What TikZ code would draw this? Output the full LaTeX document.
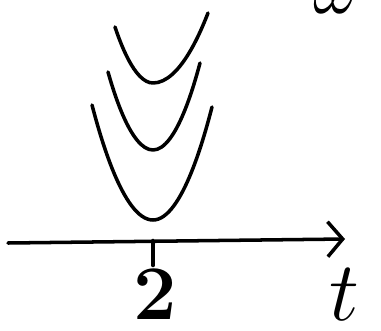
\RequirePackage{fix-cm}
\documentclass[tikz,border=0pt]{standalone}
\usepackage{amsmath}
\usepackage{amssymb}
\usepackage{tikz}
\usetikzlibrary{
    arrows.meta,
    calc
}

\begin{document}
\begin{tikzpicture}[scale=1,
    pen/.style={line width=2pt, line cap=round, line join=round}]
\clip (0,0) rectangle (7.62,6.6);

% time axis
\draw[pen,-{Straight Barb[length=3mm,width=7mm,line width=2pt]}] (0.16,1.74) -- (6.9,1.82);
\coordinate (tick) at (3.06,1.79);
\draw[pen] (tick) -- ++(0,-0.5) coordinate (tickend);
\node (two) [inner sep=0pt] at (3.1,0.72) {\fontsize{44}{44}\selectfont\bfseries 2};
\node (tlabel) [inner sep=0pt] at (6.88,0.7) {\fontsize{48}{48}\selectfont $t$};

% three wells
\draw[pen] (1.84,4.5) parabola bend (3.06,2.2) (4.24,4.46);
\draw[pen] (2.16,5.16) parabola bend (3.06,3.6) (4.0,5.34);
\draw[pen] (2.3,6.06) parabola bend (3.06,4.94) (4.16,6.34);

\node (omega) [anchor=base] at (6.72,6.33) {\fontsize{40}{40}\selectfont $\omega$};
\end{tikzpicture}
\end{document}
